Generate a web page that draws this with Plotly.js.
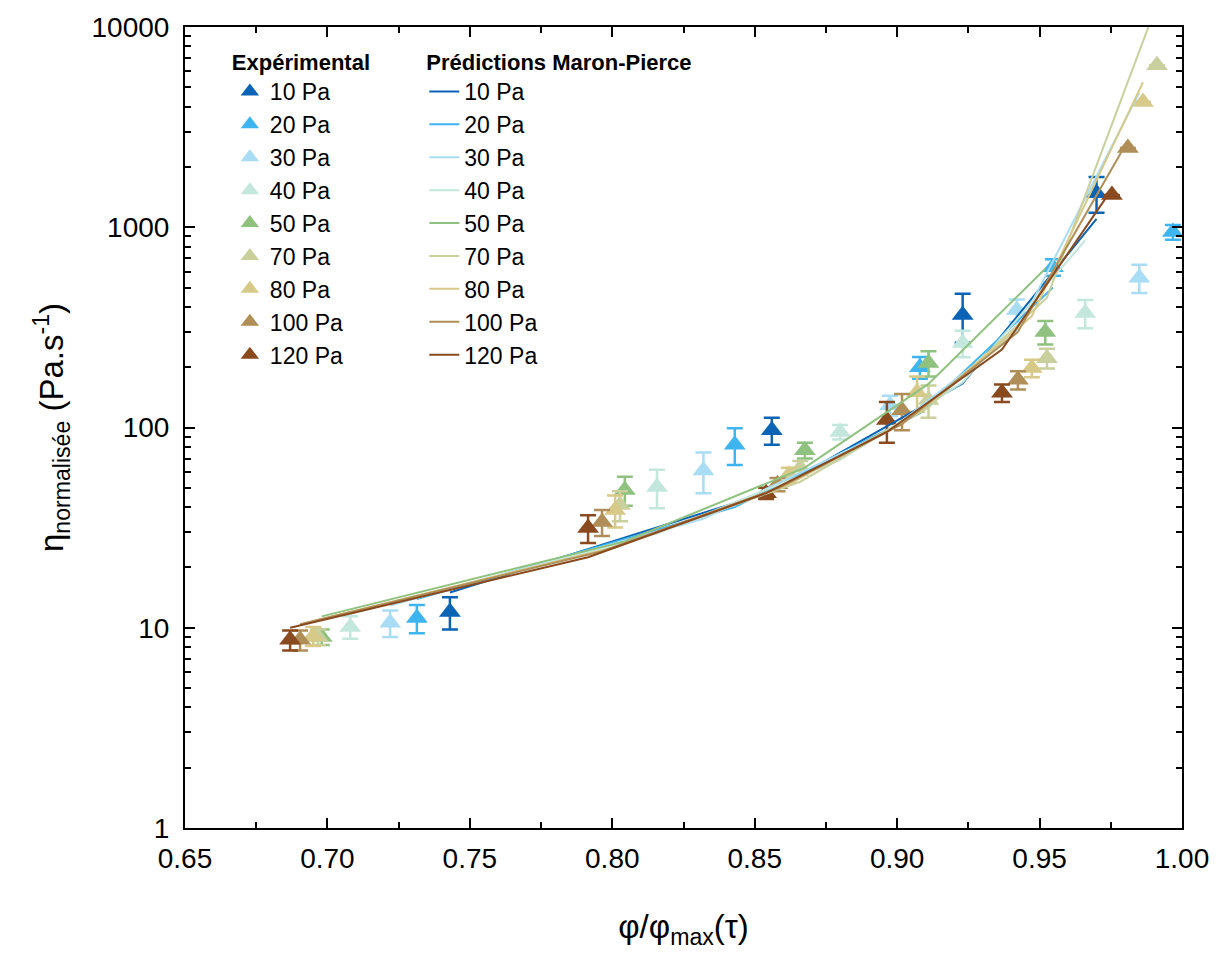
<!DOCTYPE html>
<html><head><meta charset="utf-8">
<script src="https://cdn.plot.ly/plotly-3.0.1.min.js"></script>
<style>html,body{margin:0;padding:0;background:#fff}#chart{width:1225px;height:954px}</style>
</head><body><div id="chart"></div>
<script>
// Series labels and colours
const seriesNames = ["10 Pa","20 Pa","30 Pa","40 Pa","50 Pa","70 Pa","80 Pa","100 Pa","120 Pa"];
const seriesColors = ["#0b63b6","#3fb5f0","#a9dcf5","#c3e7dc","#8fc17f","#c9cf9d","#d7ca88","#b08e57","#8a4a1f"];

// Experimental data: phi/phimax, normalised viscosity, error
const x10 = [0.743, 0.856, 0.923, 0.970];
const y10 = [12.0, 97, 365, 1480];
const e10 = [2.2, 15, 100, 300];
const x20 = [0.7314, 0.843, 0.908, 0.9547, 0.9968];
const y20 = [11.2, 82, 200, 632, 946];
const e20 = [1.8, 17, 25, 60, 80];
const x30 = [0.722, 0.832, 0.8975, 0.942, 0.985];
const y30 = [10.6, 61, 129, 386, 559];
const e30 = [1.6, 14, 15, 50, 90];
const x40 = [0.708, 0.8157, 0.880, 0.923, 0.966];
const y40 = [10.1, 50.5, 95, 264, 373];
const e40 = [1.3, 11, 8, 40, 60];
const x50 = [0.698, 0.8044, 0.8676, 0.911, 0.952];
const y50 = [9.0, 48.7, 77, 210, 300];
const e50 = [0.8, 8, 7, 30, 40];
const x70 = [0.6967, 0.8027, 0.866, 0.911, 0.9526, 0.9912];
const y70 = [9.0, 41, 63, 137, 222, 6450];
const e70 = [0.8, 7, 5, 25, 25, 0];
const x80 = [0.695, 0.801, 0.862, 0.907, 0.9473, 0.9863];
const y80 = [9.1, 38.7, 58, 150, 198, 4220];
const e80 = [1.0, 7, 5, 30, 20, 0];
const x100 = [0.6904, 0.7964, 0.858, 0.9017, 0.9424, 0.981];
const y100 = [8.7, 33.7, 52, 122, 173, 2490];
const e100 = [1.0, 5, 4, 25, 18, 0];
const x120 = [0.6869, 0.7915, 0.854, 0.8964, 0.9368, 0.9754];
const y120 = [8.7, 31.5, 47, 109, 149, 1450];
const e120 = [1.0, 5, 3, 25, 15, 0];

// Maron-Pierce predictions
const px10 = [0.743, 0.856, 0.923, 0.970];
const py10 = [15.0, 48, 166, 1100];
const px20 = [0.7314, 0.843, 0.908, 0.9547];
const py20 = [13.9, 40, 118, 500];
const px30 = [0.722, 0.832, 0.8975, 0.942, 0.985];
const py30 = [12.9, 35, 97, 300, 4700];
const px40 = [0.708, 0.8157, 0.880, 0.923, 0.966];
const py40 = [11.7, 29.5, 69, 168, 860];
const px50 = [0.698, 0.8044, 0.8676, 0.911, 0.952];
const py50 = [11.4, 27, 63, 165, 620];
const px70 = [0.6967, 0.8027, 0.866, 0.911, 0.9526, 0.9912];
const py70 = [10.9, 25.7, 53.6, 126, 445, 13000];
const px80 = [0.695, 0.801, 0.862, 0.907, 0.9473, 0.9863];
const py80 = [10.8, 25.2, 52, 117, 360, 5300];
const px100 = [0.6904, 0.7964, 0.858, 0.9017, 0.9424, 0.981];
const py100 = [10.4, 24.1, 49.6, 104, 300, 2700];
const px120 = [0.6869, 0.7915, 0.854, 0.8964, 0.9368, 0.9754];
const py120 = [10.0, 22.5, 47, 95, 245, 1550];

const yTickVals = [1, 10, 100, 1000, 10000];
const yTickText = ["1", "10", "100", "1000", "10000"];

const expX = [x10,x20,x30,x40,x50,x70,x80,x100,x120];
const expY = [y10,y20,y30,y40,y50,y70,y80,y100,y120];
const expE = [e10,e20,e30,e40,e50,e70,e80,e100,e120];
const predX = [px10,px20,px30,px40,px50,px70,px80,px100,px120];
const predY = [py10,py20,py30,py40,py50,py70,py80,py100,py120];

const traces = [];
for (let i = 0; i < seriesNames.length; i++) {
  traces.push({
    type: 'scatter', mode: 'markers', x: expX[i], y: expY[i],
    name: seriesNames[i], legend: 'legend',
    marker: {symbol: 'triangle-up', size: 19, color: seriesColors[i], line: {width: 0}},
    error_y: {type: 'data', array: expE[i], visible: true, color: seriesColors[i], thickness: 2.5, width: 8},
    cliponaxis: true
  });
}
for (let i = 0; i < seriesNames.length; i++) {
  traces.push({
    type: 'scatter', mode: 'lines', x: predX[i], y: predY[i],
    name: seriesNames[i], legend: 'legend2',
    line: {color: seriesColors[i], width: 2}
  });
}

const font = 'Liberation Sans, Arial, sans-serif';
const layout = {
  width: 1225, height: 954,
  margin: {l: 185, r: 43, t: 27, b: 126},
  paper_bgcolor: '#fff', plot_bgcolor: '#fff',
  font: {family: font, color: '#000'},
  showlegend: true,
  xaxis: {
    range: [0.65, 1.0], dtick: 0.05, tick0: 0.65, tickformat: '.2f',
    ticks: 'inside', ticklen: 10, tickwidth: 2, tickcolor: '#000',
    showline: true, linewidth: 2, linecolor: '#000', mirror: 'ticks',
    showgrid: false, zeroline: false,
    tickfont: {size: 28, family: font},
    ticklabelstandoff: 4,
    minor: {ticks: 'inside', ticklen: 6, tickwidth: 2, tickcolor: '#000', dtick: 0.025, showgrid: false},
    title: {text: 'φ/φ<sub>max</sub>(τ)', font: {size: 33, family: font}, standoff: 42}
  },
  yaxis: {
    type: 'log', range: [0, 4],
    tickvals: yTickVals, ticktext: yTickText,
    ticks: 'inside', ticklen: 10, tickwidth: 2, tickcolor: '#000',
    showline: true, linewidth: 2, linecolor: '#000', mirror: 'ticks',
    showgrid: false, zeroline: false,
    tickfont: {size: 28, family: font},
    ticklabelstandoff: 8,
    minor: {ticks: 'inside', ticklen: 6, tickwidth: 2, tickcolor: '#000', dtick: 'D1', showgrid: false},
    title: {text: 'η<sub>normalisée</sub> (Pa.s<sup>-1</sup>)', font: {size: 33, family: font}, standoff: 18}
  },
  legend: {
    x: 0.045, y: 0.982, xanchor: 'left', yanchor: 'top',
    bgcolor: 'rgba(0,0,0,0)', borderwidth: 0,
    font: {size: 23, family: font},
    title: {text: '<b>Expérimental</b>', font: {size: 22, family: font}},
    tracegroupgap: 0, itemwidth: 30
  },
  legend2: {
    x: 0.24, y: 0.982, xanchor: 'left', yanchor: 'top',
    bgcolor: 'rgba(0,0,0,0)', borderwidth: 0,
    font: {size: 23, family: font},
    title: {text: '<b>Prédictions Maron-Pierce</b>', font: {size: 22, family: font}},
    tracegroupgap: 0, itemwidth: 30
  }
};

Plotly.newPlot('chart', traces, layout, {displayModeBar: false, staticPlot: true});
</script>
</body></html>
